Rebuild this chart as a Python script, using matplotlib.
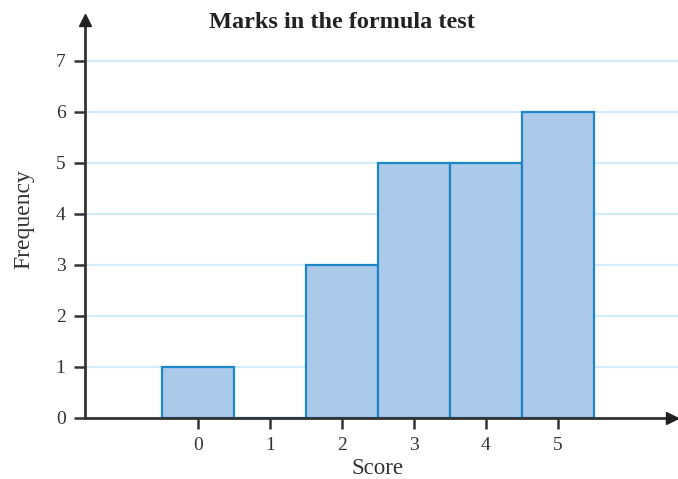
import matplotlib
matplotlib.use("Agg")
import matplotlib.pyplot as plt

scores = [0, 1, 2, 3, 4, 5]
frequency = [1, 0, 3, 5, 5, 6]
y_ticks = [0, 1, 2, 3, 4, 5, 6, 7]

plt.rcParams["font.family"] = ["Liberation Serif", "DejaVu Serif"]

fig = plt.figure(figsize=(6.78, 4.79), dpi=100)
ax = fig.add_axes([85 / 678, 61 / 479, 593 / 678, 398 / 479])

ax.set_axisbelow(True)
ax.grid(axis="y", color="#d4ecfa", linewidth=1.6)
ax.bar(scores, frequency, width=1.0, color="#abcaea", edgecolor="#1d86c6",
       linewidth=1.6, zorder=3)

ax.set_xlim(-1.57, 6.67)
ax.set_ylim(0, 7.8)
ax.set_xticks(scores)
ax.set_yticks(y_ticks)
ax.tick_params(axis="both", direction="out", length=8, width=1.8,
               color="#333333", labelsize=14, labelcolor="#333333")
ax.tick_params(axis="y", pad=6)
ax.tick_params(axis="x", pad=6)

for side in ("top", "right"):
    ax.spines[side].set_visible(False)
for side in ("left", "bottom"):
    ax.spines[side].set_color("#333333")
    ax.spines[side].set_linewidth(2)
    ax.spines[side].set_zorder(4)

# arrow heads on the axes
ax.plot(0, 1, marker="^", markersize=8, color="#222222", transform=ax.transAxes,
        clip_on=False, zorder=5)
ax.plot(0.99, 0, marker=">", markersize=8, color="#222222", transform=ax.transAxes,
        clip_on=False, zorder=5)

ax.set_xlabel("Score", fontsize=16.5, color="#333333")
ax.xaxis.set_label_coords(0.494, -0.1)
ax.set_ylabel("Frequency", fontsize=17, color="#333333", labelpad=15)
fig.text(0.505, 0.953, "Marks in the formula test", ha="center", va="center",
         fontsize=17.5, fontweight="bold", color="#222222")

fig.savefig("out.png", dpi=100)
